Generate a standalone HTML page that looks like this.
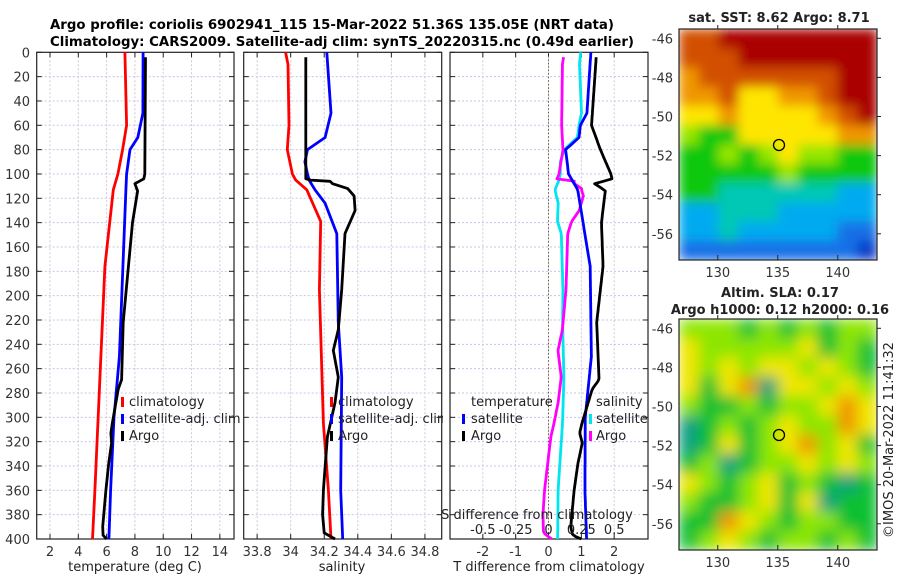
<!DOCTYPE html>
<html><head><meta charset="utf-8"><style>
html,body{margin:0;padding:0;background:#fff;}
svg{display:block;font-family:"DejaVu Sans","Liberation Sans",sans-serif;}
</style></head><body>
<svg id="chart" width="900" height="580" viewBox="0 0 900 580" xmlns="http://www.w3.org/2000/svg">
<defs>
<filter id="blurA" x="0" y="0" width="1" height="1"><feGaussianBlur stdDeviation="7" edgeMode="duplicate"/></filter>
<filter id="blurS" x="0" y="0" width="1" height="1"><feGaussianBlur stdDeviation="5.5" edgeMode="duplicate"/></filter>
<clipPath id="clipSST"><rect x="679" y="29" width="198" height="231"/></clipPath>
<clipPath id="clipSLA"><rect x="679" y="319" width="198" height="231"/></clipPath>
</defs>
<text x="50" y="29" font-size="13" font-weight="bold" textLength="564" lengthAdjust="spacingAndGlyphs">Argo profile: coriolis 6902941_115 15-Mar-2022 51.36S 135.05E (NRT data)</text>
<text x="50" y="46" font-size="13" font-weight="bold" textLength="584" lengthAdjust="spacingAndGlyphs">Climatology: CARS2009. Satellite-adj clim: synTS_20220315.nc (0.49d earlier)</text>
<g id="g"></g>
</svg>
<script>
// ---- data ----
const depthTicks=[0,20,40,60,80,100,120,140,160,180,200,220,240,260,280,300,320,340,360,380,400];
const tTicks=[2,4,6,8,10,12,14];
const sTicks=[33.8,34,34.2,34.4,34.6,34.8];
const sTickLabels=["33.8","34","34.2","34.4","34.6","34.8"];
const dTTicks=[-2,-1,0,1,2];
const dSTicks=[-0.5,-0.25,0,0.25,0.5];
const dSTickLabels=["-0.5","-0.25","0","0.25","0.5"];
const depthTclim=[0,60,80,100,113,176,360,400];
const tClim=[7.29,7.41,7.13,6.8,6.47,5.88,5.17,5.0];
const depthTsat=[0,50,70,80,100,113,250,300,360,400];
const tSat=[8.58,8.56,8.2,7.65,7.41,7.36,6.9,6.52,6.28,6.16];
const depthTargo=[4,100,104,108,114,140,222,269,277,295,305,313,321,338,360,390,397,400];
const tArgo=[8.75,8.7,8.63,8.0,8.19,7.83,7.17,7.06,6.82,6.55,6.4,6.3,6.35,6.15,5.95,5.72,5.75,6.0];
const depthSclim=[0,10,60,80,100,105,113,139,195,305,360,400];
const sClim=[33.97,33.984,33.99,33.98,34.01,34.03,34.096,34.179,34.171,34.195,34.225,34.24];
const depthSsat=[0,50,70,80,90,100,105,113,124,149,222,267,360,400];
const sSat=[34.215,34.24,34.205,34.1,34.085,34.1,34.11,34.145,34.205,34.275,34.284,34.304,34.298,34.31];
const depthSargo=[4,104,105,106,108,112,118,130,149,195,228,245,267,288,316,341,360,380,395,400];
const sArgo=[34.09,34.09,34.12,34.235,34.25,34.34,34.378,34.384,34.324,34.304,34.284,34.254,34.284,34.264,34.219,34.205,34.195,34.19,34.2,34.264];
const lonTicks=[130,135,140];
const latTicks=[-46,-48,-50,-52,-54,-56];
const sstGrid=["8899999999","8889999999","7888888899","7786677899","6676666789","5446666677","4454565544","4444454444","4433333322","2233322222","2232222211","1111111110"];
const slaGrid=["2221212122","3222223121","3232332321","3134033232","2112122343","0121232243","0131234231","1201223232","3212312101","2112313011","1143212211","1232122121"];
const sstColors=["#0a3cc8","#1470e6","#00aaf0","#00c8b4","#10c810","#96e600","#ffe600","#f09600","#d25000","#aa0000"];
const slaColors=["#10a080","#10c030","#8ce600","#f0e600","#f09600"];

// ---- helpers ----
const NS="http://www.w3.org/2000/svg";
const G=document.getElementById('g');
function mk(tag,attrs,parent){const e=document.createElementNS(NS,tag);for(const k in attrs)e.setAttribute(k,attrs[k]);(parent||G).appendChild(e);return e;}
function interp(ds,vs,d){if(d<=ds[0])return vs[0];for(let i=1;i<ds.length;i++){if(d<=ds[i]){const f=(d-ds[i-1])/(ds[i]-ds[i-1]);return vs[i-1]+f*(vs[i]-vs[i-1]);}}return vs[vs.length-1];}
const Y0=52.3,Y1=539;
function yD(d){return Y0+d/400*(Y1-Y0);}
const P1={x0:36.7,x1:234,min:1.06,max:15.0};
const P2={x0:243.7,x1:441.7,min:33.72,max:34.9};
const P3={x0:450,x1:648,min:-3.0,max:3.03};
const P3S={min:-0.75,max:0.7575};
function xs(p,v,mn,mx){mn=mn===undefined?p.min:mn;mx=mx===undefined?p.max:mx;return p.x0+(v-mn)/(mx-mn)*(p.x1-p.x0);}

function panel(p,name,xt,xtl,xfn){
  const pg=mk('g',{});
  
  
  depthTicks.forEach(d=>{const y=yD(d);
    if(d>0&&d<400){const l=mk('line',{x1:p.x0,x2:p.x1,y1:y,y2:y,stroke:'#c4c8e8','stroke-width':1,'stroke-dasharray':'2,2'},pg);
    
    }
    mk('line',{x1:p.x0,x2:p.x0+5,y1:y,y2:y,stroke:'#222'},pg);
    mk('line',{x1:p.x1-5,x2:p.x1,y1:y,y2:y,stroke:'#222'},pg);
  });
  xt.forEach((v,i)=>{const x=xfn(v);
    const l=mk('line',{x1:x,x2:x,y1:Y0,y2:Y1,stroke:'#d6c4d8','stroke-width':1,'stroke-dasharray':'2,2'},pg);
    
    
    mk('line',{x1:x,x2:x,y1:Y1-5,y2:Y1,stroke:'#222'},pg);
    mk('line',{x1:x,x2:x,y1:Y0,y2:Y0+5,stroke:'#222'},pg);
    const t=mk('text',{x:x,y:556,'font-size':13,'text-anchor':'middle',fill:'#333'},pg);
    t.textContent=xtl[i];
    
    
  });
  const r=mk('rect',{x:p.x0,y:Y0,width:p.x1-p.x0,height:Y1-Y0,fill:'none',stroke:'#222','stroke-width':1.2},pg);
  
  
  return pg;
}
function line(ds,vs,xf,color,name,parent){
  const pts=ds.map((d,i)=>xf(vs[i]).toFixed(1)+','+yD(d).toFixed(1)).join(' ');
  const l=mk('polyline',{points:pts,fill:'none',stroke:color,'stroke-width':2.8,'stroke-linejoin':'round'},parent);
  
  
}
function txt(x,y,s,size,name,extra){const t=mk('text',Object.assign({x:x,y:y,'font-size':size,fill:'#222'},extra||{}));t.textContent=s;
  
  
  return t;}
function legMark(x,y,color){const r=mk('rect',{x:x,y:y-10,width:3,height:10,fill:color});
  
  }

// y tick labels
depthTicks.forEach(d=>{txt(30,yD(d)+5,String(d),13,'y-tick-label',{'text-anchor':'end',fill:'#333'});});

// panel 1
const f1=v=>xs(P1,v);
const g1=panel(P1,'temperature-panel',tTicks,tTicks.map(String),f1);
line(depthTclim,tClim,f1,'#ff0000','temp-climatology-line',g1);
line(depthTsat,tSat,f1,'#0000ff','temp-satellite-line',g1);
line(depthTargo,tArgo,f1,'#000000','temp-argo-line',g1);
txt(135,571,'temperature (deg C)',13,'x-axis-title-temperature',{'text-anchor':'middle'});
legMark(121,407,'#ff0000');txt(129,406,'climatology',13,'legend-climatology');
legMark(121,424,'#0000ff');txt(129,423,'satellite-adj. clim',13,'legend-satellite-adj');
legMark(121,441,'#000000');txt(129,440,'Argo',13,'legend-argo');

// panel 2
const f2=v=>xs(P2,v);
const g2=panel(P2,'salinity-panel',sTicks,sTickLabels,f2);
line(depthSclim,sClim,f2,'#ff0000','sal-climatology-line',g2);
line(depthSsat,sSat,f2,'#0000ff','sal-satellite-line',g2);
line(depthSargo,sArgo,f2,'#000000','sal-argo-line',g2);
txt(342,571,'salinity',13,'x-axis-title-salinity',{'text-anchor':'middle'});
legMark(330,407,'#ff0000');txt(338,406,'climatology',13,'legend-climatology-2');
legMark(330,424,'#0000ff');txt(338,423,'satellite-adj. clim',13,'legend-satellite-adj-2');
legMark(330,441,'#000000');txt(338,440,'Argo',13,'legend-argo-2');
const m=mk('rect',{x:443,y:410,width:6,height:16,fill:'#fff'});



// panel 3
const f3=v=>xs(P3,v);
const fS=v=>xs(P3,v,P3S.min,P3S.max);
const g3=panel(P3,'difference-panel',dTTicks,dTTicks.map(String),f3);
const zl=mk('line',{x1:f3(0),x2:f3(0),y1:Y0,y2:Y1,stroke:'#6b5a3a','stroke-width':1,'stroke-dasharray':'1.5,2'},g3);


const dd=[];for(let d=0;d<=400;d+=2)dd.push(d);
const dd4=dd.filter(d=>d>=4);
line(dd,dd.map(d=>interp(depthSsat,sSat,d)-interp(depthSclim,sClim,d)),fS,'#00e5ee','sal-diff-satellite-line',g3);
line(dd4,dd4.map(d=>interp(depthSargo,sArgo,d)-interp(depthSclim,sClim,d)),fS,'#ff00ff','sal-diff-argo-line',g3);
line(dd,dd.map(d=>interp(depthTsat,tSat,d)-interp(depthTclim,tClim,d)),f3,'#0000ff','temp-diff-satellite-line',g3);
line(dd4,dd4.map(d=>interp(depthTargo,tArgo,d)-interp(depthTclim,tClim,d)),f3,'#000000','temp-diff-argo-line',g3);
dSTicks.forEach((v,i)=>txt(fS(v),534,dSTickLabels[i],13,'s-diff-tick-label',{'text-anchor':'middle'}));
txt(537,519,'S difference from climatology',13,'s-diff-axis-title',{'text-anchor':'middle'});
txt(549,571,'T difference from climatology',13,'x-axis-title-tdiff',{'text-anchor':'middle'});
txt(471,406,'temperature',13,'legend-temperature-header');
legMark(462,424,'#0000ff');txt(471,423,'satellite',13,'legend-t-satellite');
legMark(462,441,'#000000');txt(471,440,'Argo',13,'legend-t-argo');
txt(596,406,'salinity',13,'legend-salinity-header');
legMark(589,424,'#00e5ee');txt(596,423,'satellite',13,'legend-s-satellite');
legMark(589,441,'#ff00ff');txt(596,440,'Argo',13,'legend-s-argo');

// maps
const LON0=126.77,LON1=143.27;
function xLon(l){return 679+(l-LON0)/(LON1-LON0)*198;}
function mapPanel(top,grid,colors,filt,clip,name){
  const mg=mk('g',{});
  
  
  const cells=mk('g',{'clip-path':'url(#'+clip+')'},mg);
  const inner=mk('g',{filter:'url(#'+filt+')'},cells);
  const rows=grid.length,cols=grid[0].length,cw=198/cols,ch=231/rows;
  grid.forEach((row,r)=>{for(let c=0;c<cols;c++){
    const cell=mk('rect',{x:679+c*cw,y:top+r*ch,width:cw+0.6,height:ch+0.6,fill:colors[+row[c]]},inner);
    
    
  }});
  const fr=mk('rect',{x:679,y:top,width:198,height:231,fill:'none',stroke:'#222','stroke-width':1.2},mg);
  
  
  lonTicks.forEach(l=>{const x=xLon(l);
    mk('line',{x1:x,x2:x,y1:top+231,y2:top+226,stroke:'#222'},mg);
    mk('line',{x1:x,x2:x,y1:top,y2:top-4,stroke:'#222'},mg);
    txt(x,top+248,String(l),13,'lon-tick-label',{'text-anchor':'middle',fill:'#333'});});
  latTicks.forEach((l,i)=>{const y=top+9.3+(-46-l)/2*39.1;
    mk('line',{x1:877,x2:881,y1:y,y2:y,stroke:'#222'},mg);
    txt(673,y+5,String(l),13,'lat-tick-label',{'text-anchor':'end',fill:'#333'});});
  const c=mk('circle',{cx:779,cy:top+116,r:5.5,fill:'none',stroke:'#000','stroke-width':1.3},mg);
  
  
}
mapPanel(29,sstGrid,sstColors,'blurS','clipSST','sst-map');
mapPanel(319,slaGrid,slaColors,'blurA','clipSLA','sla-map');
txt(779,22,'sat. SST: 8.62 Argo: 8.71',13,'sst-map-title',{'text-anchor':'middle','font-weight':'bold'});
txt(780,297,'Altim. SLA: 0.17',13,'sla-map-title-1',{'text-anchor':'middle','font-weight':'bold'});
txt(780,314,'Argo h1000: 0.12 h2000: 0.16',13,'sla-map-title-2',{'text-anchor':'middle','font-weight':'bold'});
txt(893,440,'\u00a9IMOS 20-Mar-2022 11:41:32',13,'timestamp-credit',{'text-anchor':'middle',transform:'rotate(-90 893 440)'});
</script>
</body></html>
